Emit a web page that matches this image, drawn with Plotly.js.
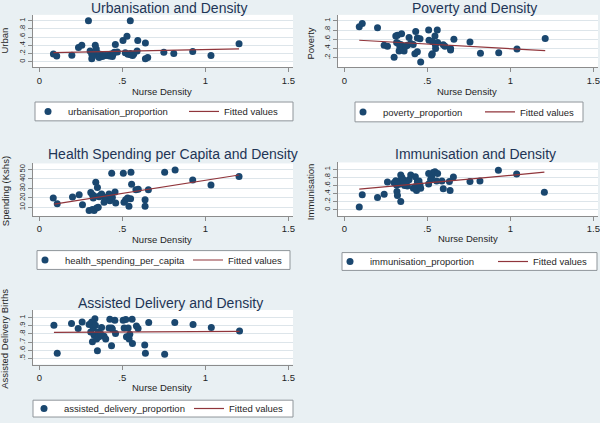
<!DOCTYPE html>
<html><head><meta charset="utf-8">
<script src="https://cdn.plot.ly/plotly-3.0.1.min.js"></script>
<style>html,body{margin:0;padding:0;background:#e9f0f3}#chart{width:600px;height:423px}</style>
</head><body><div id="chart"></div>
<script>
// ---------- DATA ----------
const xTickVals = [0, 0.5, 1, 1.5];
const xTickText = ["0", ".5", "1", "1.5"];

const urbanDensity = [0.085,0.105,0.196,0.236,0.256,0.296,0.306,0.316,0.316,0.33,0.337,0.343,0.347,0.357,0.367,0.383,0.397,0.411,0.423,0.433,0.444,0.452,0.458,0.504,0.518,0.528,0.534,0.548,0.548,0.562,0.569,0.593,0.589,0.639,0.639,0.653,0.75,0.81,0.924,1.034,1.203,0.36,0.32,0.44,0.47,0.55,0.38];
const urbanValues  = [0.19,0.14,0.16,0.35,0.40,1.00,0.26,0.18,0.07,0.19,0.40,0.31,0.22,0.14,0.18,0.15,0.15,0.15,0.14,0.19,0.18,0.23,0.42,0.52,0.22,0.62,0.18,1.00,0.20,0.15,0.19,0.52,0.26,0.46,0.07,0.10,0.23,0.20,0.25,0.15,0.44,0.10,0.12,0.13,0.24,0.17,0.13];
const urbanFitX = [0.085, 1.203];
const urbanFitY = [0.22, 0.315];
const urbanTickVals = [0, 0.2, 0.4, 0.6, 0.8, 1];
const urbanTickText = ["0", ".2", ".4", ".6", ".8", "1"];

const povertyDensity = [0.09,0.108,0.2,0.24,0.26,0.30,0.31,0.32,0.315,0.325,0.33,0.335,0.345,0.34,0.35,0.36,0.38,0.39,0.40,0.415,0.425,0.43,0.44,0.44,0.456,0.46,0.508,0.51,0.526,0.53,0.546,0.548,0.55,0.56,0.562,0.596,0.606,0.64,0.64,0.66,0.757,0.82,0.93,1.04,1.21,0.37,0.53];
const povertyValues  = [0.87,0.94,0.85,0.47,0.45,0.21,0.67,0.69,0.53,0.51,0.35,0.42,0.72,0.49,0.38,0.35,0.47,0.64,0.51,0.49,0.29,0.77,0.33,0.63,0.61,0.11,0.80,0.58,0.26,0.29,0.67,0.49,0.40,0.80,0.53,0.48,0.45,0.40,0.37,0.60,0.54,0.30,0.31,0.39,0.62,0.45,0.55];
const povertyFitX = [0.09, 1.21];
const povertyFitY = [0.58, 0.355];
const povertyTickVals = [0.2, 0.4, 0.6, 0.8, 1];
const povertyTickText = [".2", ".4", ".6", ".8", "1"];

const healthDensity = [0.084,0.108,0.2,0.24,0.26,0.30,0.31,0.32,0.325,0.32,0.33,0.34,0.345,0.35,0.355,0.365,0.375,0.385,0.39,0.40,0.42,0.425,0.436,0.44,0.456,0.46,0.506,0.51,0.52,0.532,0.54,0.552,0.556,0.582,0.596,0.637,0.637,0.657,0.755,0.818,0.924,1.034,1.203,0.33,0.36,0.43,0.55];
const healthValues  = [19.7,13.8,20.8,23.2,12.8,6.5,25.7,23.2,19.7,7.6,6.5,36.4,9.3,30.9,10,22.2,23.9,21.5,15.2,18.7,23.9,17,45.8,20.4,26,14.5,45.8,15.2,18,19.7,11,46.9,34.3,28.4,29.1,18,11,28.4,46.9,49.3,38.8,33.6,42.4,22,21,22,19];
const healthFitX = [0.09, 1.203];
const healthFitY = [13.3, 44];
const healthTickVals = [10, 20, 30, 40, 50];
const healthTickText = ["10", "20", "30", "40", "50"];

const immunDensity = [0.09,0.108,0.2,0.24,0.26,0.30,0.31,0.315,0.317,0.32,0.325,0.33,0.34,0.34,0.347,0.355,0.363,0.38,0.39,0.40,0.416,0.426,0.428,0.435,0.44,0.45,0.46,0.456,0.508,0.508,0.526,0.536,0.546,0.556,0.562,0.588,0.596,0.633,0.637,0.657,0.757,0.817,0.928,1.038,1.205,0.36,0.52];
const immunValues  = [0.066,0.37,0.30,0.385,0.69,0.67,0.72,0.615,0.45,0.35,0.70,0.63,0.205,0.86,0.80,0.74,0.60,0.59,0.74,0.86,0.53,0.57,0.82,0.475,0.70,0.71,0.53,0.615,0.90,0.64,0.82,0.92,0.94,0.71,0.90,0.71,0.52,0.70,0.475,0.81,0.70,0.71,0.98,0.885,0.435,0.65,0.75];
const immunFitX = [0.09, 1.205];
const immunFitY = [0.51, 0.93];
const immunTickVals = [0, 0.2, 0.4, 0.6, 0.8, 1];
const immunTickText = ["0", ".2", ".4", ".6", ".8", "1"];

const deliveryDensity = [0.088,0.108,0.194,0.234,0.258,0.30,0.31,0.315,0.32,0.325,0.33,0.335,0.338,0.345,0.35,0.355,0.359,0.375,0.39,0.40,0.42,0.425,0.435,0.435,0.455,0.459,0.505,0.511,0.521,0.525,0.535,0.541,0.545,0.559,0.561,0.585,0.595,0.635,0.639,0.659,0.755,0.816,0.926,1.036,1.206,0.37,0.44];
const deliveryValues  = [0.907,0.561,0.927,0.866,0.947,0.915,0.825,0.947,0.703,0.874,0.785,0.988,0.907,0.736,0.593,0.825,0.764,0.878,0.772,0.736,0.874,0.98,0.874,0.654,0.967,0.805,0.967,0.874,0.976,0.764,0.874,0.736,0.797,0.98,0.683,0.898,0.866,0.663,0.561,0.939,0.549,0.939,0.915,0.878,0.837,0.80,0.86];
const deliveryFitX = [0.088, 1.206];
const deliveryFitY = [0.82, 0.83];
const deliveryTickVals = [0.5, 0.6, 0.7, 0.8, 0.9, 1];
const deliveryTickText = [".5", ".6", ".7", ".8", ".9", "1"];

// ---------- STYLE / LAYOUT ----------
const W = 600, H = 423;
const FONT = 'Liberation Sans, Arial, Helvetica, sans-serif';
const NAVY = '#1a476f', MAROON = '#90353b', BG = '#e9f0f3';
const AXC = '#8c8c8c', GRID = '#dde5ea', TXT = '#1f1f1f', TTL = '#1e3556';
const px = v => v / W, py = v => 1 - v / H;

const panels = [
  {x: urbanDensity, y: urbanValues, fx: urbanFitX, fy: urbanFitY, tv: urbanTickVals, tt: urbanTickText,
   name: 'urbanisation_proportion', title: 'Urbanisation and Density', ytitle: 'Urban',
   box: [33, 15, 293, 68], yr: [-0.138, 1.145], tpos: [169, -1], tanchor: 'top', xtpos: [162, 92], ytpos: [5, 41],
   frame: [35, 103, 293, 122], legA: 28, legB: 184},
  {x: povertyDensity, y: povertyValues, fx: povertyFitX, fy: povertyFitY, tv: povertyTickVals, tt: povertyTickText,
   name: 'poverty_proportion', title: 'Poverty and Density', ytitle: 'Poverty',
   box: [338, 15, 598, 68], yr: [-0.006, 1.128], tpos: [474, -1], tanchor: 'top', xtpos: [467, 92], ytpos: [311, 44],
   frame: [355, 103, 583, 123], legA: 343, legB: 480},
  {x: healthDensity, y: healthValues, fx: healthFitX, fy: healthFitY, tv: healthTickVals, tt: healthTickText,
   name: 'health_spending_per_capita', title: 'Health Spending per Capita and Density', ytitle: 'Spending (Kshs)',
   box: [33, 165, 293, 218], yr: [0.9, 56.2], tpos: [173, 155], tanchor: 'middle', xtpos: [162, 242], ytpos: [5, 193],
   frame: [37, 253, 290, 272], legA: 25, legB: 188},
  {x: immunDensity, y: immunValues, fx: immunFitX, fy: immunFitY, tv: immunTickVals, tt: immunTickText,
   name: 'immunisation_proportion', title: 'Immunisation and Density', ytitle: 'Immunisation',
   box: [338, 164, 598, 218], yr: [-0.155, 1.172], tpos: [475, 155], tanchor: 'middle', xtpos: [468, 241], ytpos: [310, 194],
   frame: [342, 255, 597, 273], legA: 330, legB: 493},
  {x: deliveryDensity, y: deliveryValues, fx: deliveryFitX, fy: deliveryFitY, tv: deliveryTickVals, tt: deliveryTickText,
   name: 'assisted_delivery_proportion', title: 'Assisted Delivery and Density', ytitle: 'Assisted Delivery Births',
   box: [33, 313, 293, 368], yr: [0.423, 1.094], tpos: [170, 306], tanchor: 'middle', xtpos: [162, 391], ytpos: [5, 342],
   frame: [33, 404, 293, 421], legA: 24, legB: 189}
];

const traces = [];
const layout = {
  width: W, height: H, margin: {l: 0, r: 0, t: 0, b: 0},
  paper_bgcolor: BG, plot_bgcolor: '#ffffff',
  font: {family: FONT, color: TXT},
  showlegend: true, annotations: [], shapes: []
};

panels.forEach((p, i) => {
  const n = i + 1, sfx = n === 1 ? '' : String(n);
  const la = 'legend' + (2 * i + 1 === 1 ? '' : String(2 * i + 1));
  const lb = 'legend' + String(2 * i + 2);
  traces.push({type: 'scatter', mode: 'markers', x: p.x, y: p.y, name: p.name,
    xaxis: 'x' + sfx, yaxis: 'y' + sfx, legend: la,
    marker: {color: NAVY, size: 7}, cliponaxis: false});
  traces.push({type: 'scatter', mode: 'lines', x: p.fx, y: p.fy, name: 'Fitted values',
    xaxis: 'x' + sfx, yaxis: 'y' + sfx, legend: lb,
    line: {color: MAROON, width: 1.2}});
  const [x0, y0, x1, y1] = p.box;
  layout['xaxis' + sfx] = {domain: [px(x0), px(x1)], anchor: 'y' + sfx, range: [-0.038, 1.528],
    tickvals: xTickVals, ticktext: xTickText, ticks: 'outside', ticklen: 4, tickcolor: AXC,
    showline: true, linecolor: AXC, linewidth: 1, showgrid: false, zeroline: false,
    tickfont: {size: 9.5, color: TXT, family: FONT}, fixedrange: true};
  layout['yaxis' + sfx] = {domain: [py(y1), py(y0)], anchor: 'x' + sfx, range: p.yr,
    tickvals: p.tv, ticktext: p.tt, tickangle: -90, ticks: 'outside', ticklen: 4, tickcolor: AXC,
    showline: true, linecolor: AXC, linewidth: 1, showgrid: true, gridcolor: GRID, gridwidth: 1,
    zeroline: false, tickfont: {size: 7.5, color: TXT, family: FONT}, fixedrange: true};
  layout.annotations.push(
    {text: p.title, xref: 'paper', yref: 'paper', x: px(p.tpos[0]), y: py(p.tpos[1]), xanchor: 'center', yanchor: p.tanchor,
     showarrow: false, borderpad: 0, font: {size: 14, color: TTL, family: FONT}},
    {text: 'Nurse Density', xref: 'paper', yref: 'paper', x: px(p.xtpos[0]), y: py(p.xtpos[1]), xanchor: 'center', yanchor: 'middle',
     showarrow: false, font: {size: 9.5, color: TXT, family: FONT}},
    {text: p.ytitle, xref: 'paper', yref: 'paper', x: px(p.ytpos[0]), y: py(p.ytpos[1]), xanchor: 'center', yanchor: 'middle',
     textangle: -90, showarrow: false, font: {size: 9.5, color: TXT, family: FONT}}
  );
  const [fx0, fy0, fx1, fy1] = p.frame;
  layout.shapes.push({type: 'rect', xref: 'paper', yref: 'paper', x0: px(fx0), x1: px(fx1), y0: py(fy1), y1: py(fy0),
    fillcolor: '#ffffff', line: {color: '#8f959a', width: 1}, layer: 'below'});
  const ly = py((fy0 + fy1) / 2);
  const legBase = {orientation: 'h', bgcolor: 'rgba(0,0,0,0)', borderwidth: 0, yanchor: 'middle', xanchor: 'left',
    font: {size: 9.5, color: TXT, family: FONT}, itemclick: false, itemdoubleclick: false};
  layout[la] = Object.assign({}, legBase, {x: px(p.legA), y: ly});
  layout[lb] = Object.assign({}, legBase, {x: px(p.legB), y: ly});
});

Plotly.newPlot('chart', traces, layout, {staticPlot: true, displayModeBar: false});
</script></body></html>
